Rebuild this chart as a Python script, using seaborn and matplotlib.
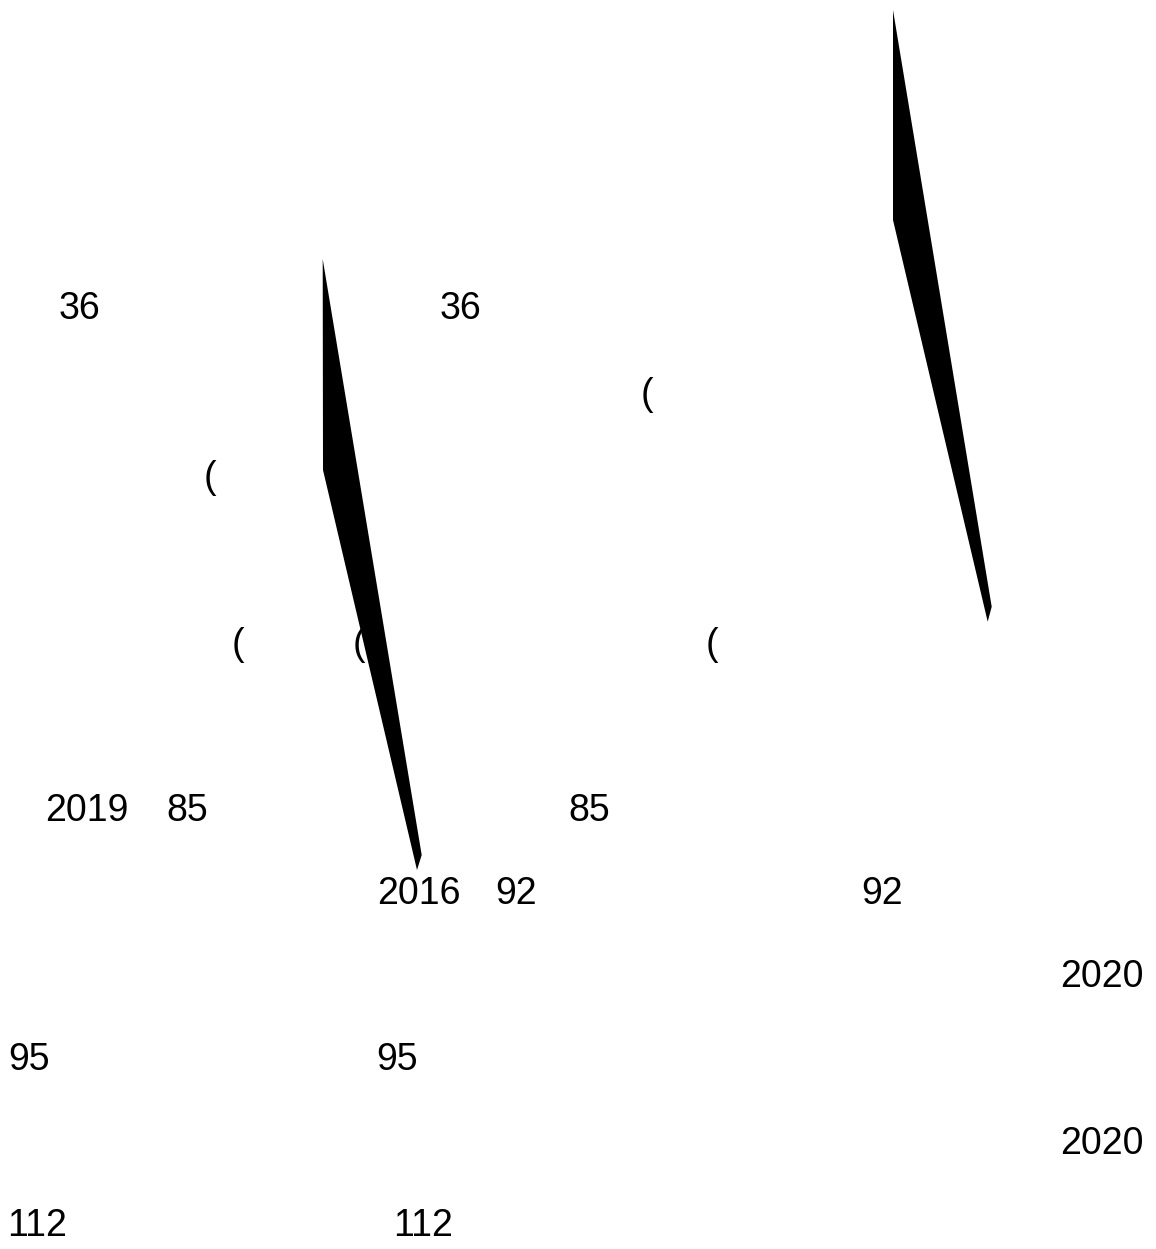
import matplotlib
matplotlib.use("Agg")
import matplotlib.pyplot as plt
import seaborn as sns

# ---- data (canvas units: pixels, y grows downwards) ----
label_texts = ["36", "36", "(", "(", "(", "(", "(",
               "2019", "85", "85", "2016", "92", "92",
               "2020", "2020", "95", "95", "112", "112"]
label_x = [59, 440, 204, 232, 353, 641, 706,
           45, 166, 568, 377, 495, 861,
           1060, 1060, 8, 376, 7, 393]
label_y = [319, 319, 488, 655, 655, 405, 655,
           821, 821, 821, 904, 904, 904,
           987, 1154, 1070, 1070, 1236, 1236]

# two black wedge shapes (outline vertices)
wedge1_x = [322.7, 421.7, 417.0, 323.0]
wedge1_y = [259.0, 855.0, 870.0, 470.0]
wedge2_x = [893.0, 991.7, 987.7, 893.0]
wedge2_y = [10.0, 606.7, 621.7, 220.0]

sns.set_theme(style="white")
plt.rcParams["font.family"] = ["Liberation Sans", "DejaVu Sans"]

W, H = 1156, 1249
fig = plt.figure(figsize=(W / 100, H / 100), dpi=100)
fig.patch.set_facecolor("white")
ax = fig.add_axes([0, 0, 1, 1])
ax.set_xlim(0, W)
ax.set_ylim(H, 0)
ax.axis("off")

for xs, ys in [(wedge1_x, wedge1_y), (wedge2_x, wedge2_y)]:
    ax.fill(xs, ys, color="black", lw=0)

for t, x, y in zip(label_texts, label_x, label_y):
    ax.text(x, y, t, fontsize=27, color="black", ha="left", va="baseline")

fig.savefig("out.png", dpi=100, facecolor="white")
